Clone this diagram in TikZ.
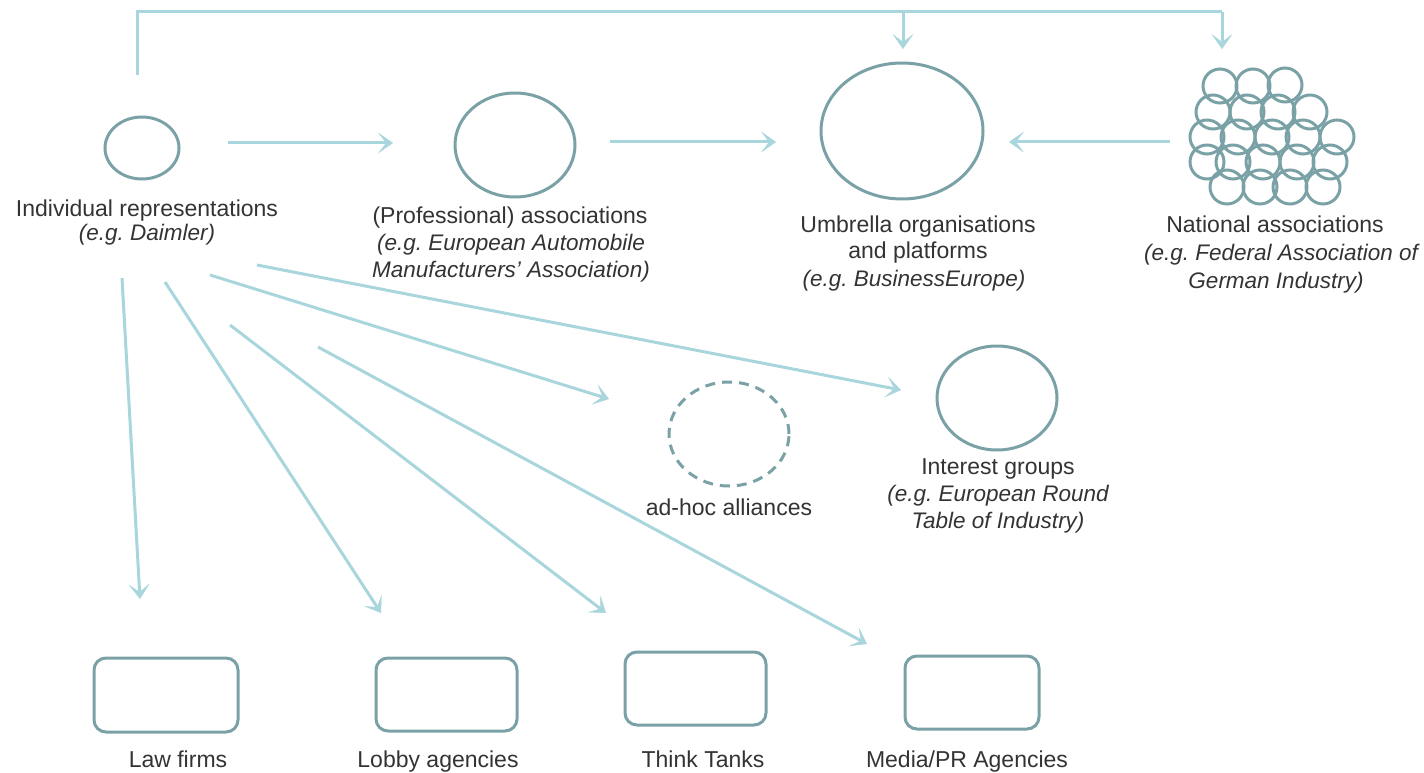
\documentclass[tikz,border=0pt]{standalone}
\usepackage{fontspec}
\setmainfont{Liberation Sans}
\usetikzlibrary{arrows.meta,shapes.geometric}
\definecolor{arr}{RGB}{168,214,220}
\definecolor{circ}{RGB}{122,162,166}
\definecolor{txt}{RGB}{51,51,51}
\begin{document}
\frenchspacing
\begin{tikzpicture}[x=1pt,y=-1pt,
  conn/.style={draw=arr,line width=3pt,-{Stealth[length=15pt,width=21pt,inset=8pt,line width=0.5pt]}},
  link/.style={draw=arr,line width=3pt},
  ell/.style={ellipse,draw=circ,line width=3pt,inner sep=0pt},
  box/.style={rectangle,rounded corners=12pt,draw=circ,line width=3pt,inner sep=0pt},
  small/.style={circle,draw=circ,line width=3pt,inner sep=0pt,minimum size=34pt},
  lbl/.style={text=txt,font=\fontsize{23}{27}\selectfont,anchor=base,inner sep=0pt},
  ilbl/.style={lbl,font=\fontsize{22.5}{27}\selectfont\itshape}]
\useasboundingbox (0,0) rectangle (1424,773);

% circles
\node[ell,minimum width=74pt,minimum height=62pt] (ind) at (142,148) {};
\node[ell,minimum width=120pt,minimum height=104pt] (prof) at (515,145) {};
\node[ell,minimum width=162pt,minimum height=136pt] (umb) at (902,131) {};
\node[ell,dash pattern=on 10pt off 7pt,minimum width=120pt,minimum height=104pt] (adhoc) at (729,434) {};
\node[ell,minimum width=120pt,minimum height=104pt] (intg) at (997,398) {};

% national cluster
\foreach \x/\y [count=\i] in {1220/86,1253/86,1285/85,
  1213/112,1247/112,1278/112,1310/112,
  1207/137,1238/137,1272/137,1303/137,1337/137,
  1207/162,1233/162,1263/162,1297/162,1330/162,
  1227/187,1260/187,1290/187,1323/187}
  \node[small] (n\i) at (\x,\y) {};

% boxes
\node[box,minimum width=144pt,minimum height=74pt] (law) at (166,695) {};
\node[box,minimum width=141pt,minimum height=73pt] (lobby) at (446.5,694.5) {};
\node[box,minimum width=141pt,minimum height=73pt] (think) at (695.5,688.5) {};
\node[box,minimum width=134pt,minimum height=73pt] (media) at (972,692.5) {};

% labels
\node[lbl] (indA) at (147,216) {Individual representations};
\node[ilbl] (indB) at (147,240) {(e.g. Daimler)};
\node[lbl] (profA) at (510,223) {(Professional) associations};
\node[ilbl] (profB) at (511,250) {(e.g. European Automobile};
\node[ilbl] (profC) at (511,277) {Manufacturers' Association)};
\node[lbl] (umbA) at (918,232) {Umbrella organisations};
\node[lbl] (umbB) at (918,258) {and platforms};
\node[ilbl] (umbC) at (914,286) {(e.g. BusinessEurope)};
\node[lbl] (natA) at (1275,232) {National associations};
\node[ilbl] (natB) at (1281,260) {(e.g. Federal Association of};
\node[ilbl] (natC) at (1276,288) {German Industry)};
\node[lbl] (adhocA) at (729,515) {ad-hoc alliances};
\node[lbl] (intA) at (998,474) {Interest groups};
\node[ilbl] (intB) at (998,501) {(e.g. European Round};
\node[ilbl] (intC) at (998,528) {Table of Industry)};
\node[lbl] (lawA) at (178,767) {Law firms};
\node[lbl] (lobbyA) at (438,767) {Lobby agencies};
\node[lbl] (thinkA) at (703,767) {Think Tanks};
\node[lbl] (mediaA) at (967,767) {Media/PR Agencies};

% connector end points
\coordinate (a1s) at (228,143); \coordinate (a1e) at (393,143);
\coordinate (a2s) at (610,142); \coordinate (a2e) at (776,142);
\coordinate (a3s) at (1170,142); \coordinate (a3e) at (1009,142);
\coordinate (t0) at (137,75); \coordinate (t1) at (137,12);
\coordinate (t2) at (903,12); \coordinate (t3) at (1222,12);
\coordinate (t2e) at (903,49); \coordinate (t3e) at (1222,49);
\coordinate (f1s) at (257,265); \coordinate (f1e) at (901,390);
\coordinate (f2s) at (210,275); \coordinate (f2e) at (609,399);
\coordinate (f3s) at (122,278); \coordinate (f3e) at (140,599);
\coordinate (f4s) at (165,282); \coordinate (f4e) at (381,613);
\coordinate (f5s) at (230,325); \coordinate (f5e) at (606,613);
\coordinate (f6s) at (318,347); \coordinate (f6e) at (867,644);

\draw[conn] (a1s) -- (a1e);
\draw[conn] (a2s) -- (a2e);
\draw[conn] (a3s) -- (a3e);
\draw[link] (t0) -- (t1) -- (t3);
\draw[conn] (t3) -- (t3e);
\draw[conn] (t2) -- (t2e);
\draw[conn] (f1s) -- (f1e);
\draw[conn] (f2s) -- (f2e);
\draw[conn] (f3s) -- (f3e);
\draw[conn] (f4s) -- (f4e);
\draw[conn] (f5s) -- (f5e);
\draw[conn] (f6s) -- (f6e);
\end{tikzpicture}
\end{document}
